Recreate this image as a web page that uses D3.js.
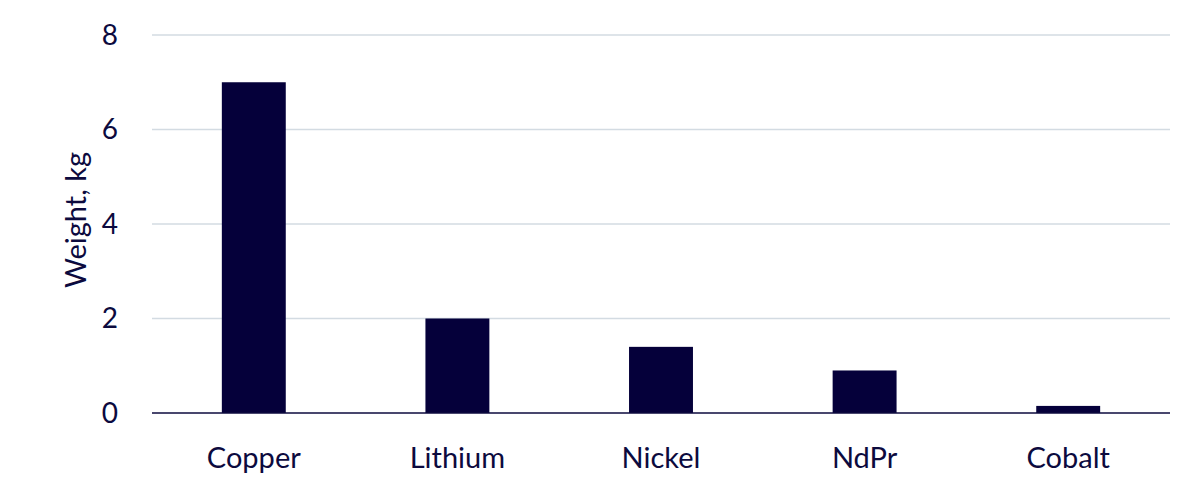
<!DOCTYPE html>
<html lang="en">
<head>
<meta charset="UTF-8">
<title>Weight, kg</title>
<script src="https://d3js.org/d3.v7.min.js"></script>
<style>
  body { margin: 0; background: #fff; }
  text { font-family: Lato, "Noto Sans", sans-serif; fill: #0c0a3e; }
</style>
</head>
<body>
<script>
var categories = ["Copper", "Lithium", "Nickel", "NdPr", "Cobalt"];
var weights = [7.0, 2.0, 1.4, 0.9, 0.15];
var yTicks = [0, 2, 4, 6, 8];

var width = 1200,
    height = 496,
    margin = {top: 35, right: 30, bottom: 83, left: 152};

var svg = d3.select("body").append("svg")
    .attr("width", width)
    .attr("height", height);

var g = svg.append("g")
    .attr("transform", "translate(" + margin.left + "," + margin.top + ")");

var w = width - margin.left - margin.right,
    h = height - margin.top - margin.bottom;

var x = d3.scaleBand()
    .domain(categories)
    .range([0, w])
    .paddingInner(0.686)
    .paddingOuter(0.343);

var y = d3.scaleLinear()
    .domain([0, 8])
    .range([h, 0]);

// gridlines
g.selectAll(".grid")
    .data(yTicks.filter(function(d) { return d > 0; }))
    .enter().append("line")
    .attr("x1", 0)
    .attr("x2", w)
    .attr("y1", function(d) { return y(d); })
    .attr("y2", function(d) { return y(d); })
    .style("stroke", "#d3dbe2")
    .style("stroke-width", 1.5);

// y tick labels
g.selectAll(".ylab")
    .data(yTicks)
    .enter().append("text")
    .attr("x", -34)
    .attr("y", function(d) { return y(d); })
    .attr("dy", "0.35em")
    .attr("text-anchor", "end")
    .style("font-size", "28px")
    .text(function(d) { return d; });

// bars
g.selectAll(".bar")
    .data(weights)
    .enter().append("rect")
    .attr("x", function(d, i) { return x(categories[i]); })
    .attr("width", x.bandwidth())
    .attr("y", function(d) { return y(d); })
    .attr("height", function(d) { return h - y(d); })
    .style("fill", "#05003a");

// baseline
g.append("line")
    .attr("x1", 0)
    .attr("x2", w)
    .attr("y1", y(0))
    .attr("y2", y(0))
    .style("stroke", "#0c0a3e")
    .style("stroke-width", 1.5);

// category labels
g.selectAll(".xlab")
    .data(categories)
    .enter().append("text")
    .attr("x", function(d) { return x(d) + x.bandwidth() / 2; })
    .attr("y", h + 55)
    .attr("text-anchor", "middle")
    .style("font-size", "29px")
    .text(function(d) { return d; });

// y axis title
svg.append("text")
    .attr("transform", "translate(86," + 220 + ") rotate(-90)")
    .attr("text-anchor", "middle")
    .style("font-size", "29px")
    .text("Weight, kg");
</script>
</body>
</html>
